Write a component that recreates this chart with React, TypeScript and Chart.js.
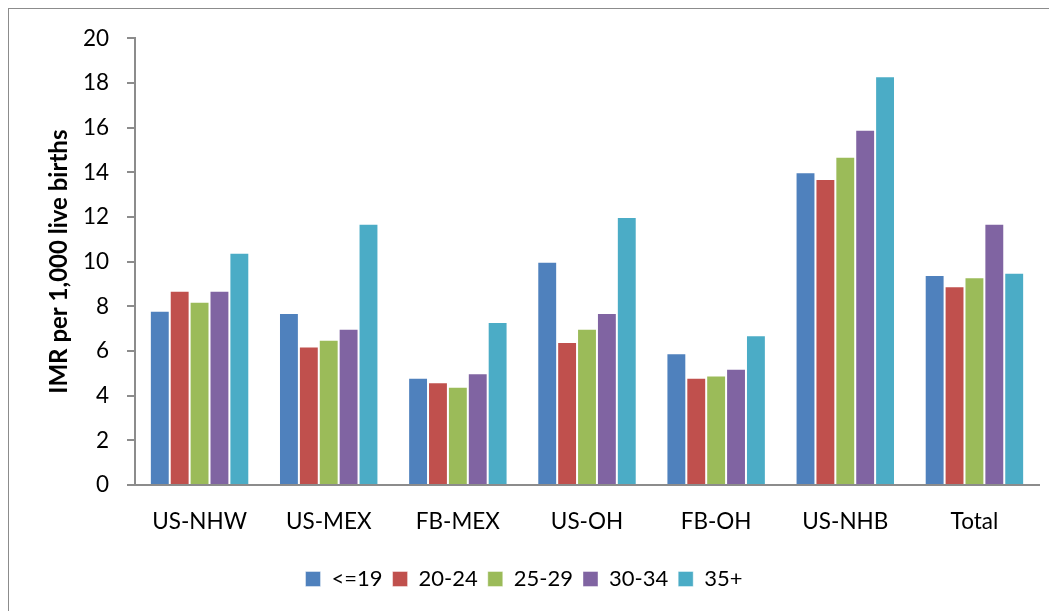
import React, { useEffect, useRef } from "react";
import { Chart, registerables } from "chart.js";

Chart.register(...registerables);

const categories = ["US-NHW", "US-MEX", "FB-MEX", "US-OH", "FB-OH", "US-NHB", "Total"];
const seriesLabels = ["<=19", "20-24", "25-29", "30-34", "35+"];
const ageUnder19 = [7.8, 7.7, 4.8, 10.0, 5.9, 14.0, 9.4];
const age20to24 = [8.7, 6.2, 4.6, 6.4, 4.8, 13.7, 8.9];
const age25to29 = [8.2, 6.5, 4.4, 7.0, 4.9, 14.7, 9.3];
const age30to34 = [8.7, 7.0, 5.0, 7.7, 5.2, 15.9, 11.7];
const age35plus = [10.4, 11.7, 7.3, 12.0, 6.7, 18.3, 9.5];
const seriesColors = ["#4F81BD", "#C0504D", "#9BBB59", "#8064A2", "#4BACC6"];
const yMin = 0;
const yMax = 20;
const yStep = 2;
const yTitle = "IMR per 1,000 live births";

const FONT = "Lato, 'Open Sans', 'Liberation Sans', sans-serif";

export default function App() {
  const ref = useRef<HTMLCanvasElement | null>(null);
  useEffect(() => {
    if (!ref.current) return;
    const values = [ageUnder19, age20to24, age25to29, age30to34, age35plus];
    const chart = new Chart(ref.current, {
      type: "bar",
      data: {
        labels: categories,
        datasets: values.map((v, i) => ({
          label: seriesLabels[i],
          data: v,
          backgroundColor: seriesColors[i],
          borderColor: "rgba(255,255,255,0.55)",
          borderWidth: { top: 1, left: 1, right: 1, bottom: 0 },
          borderSkipped: "bottom",
          categoryPercentage: 0.77,
          barPercentage: 1.0,
        })),
      },
      options: {
        animation: false,
        responsive: false,
        maintainAspectRatio: false,
        devicePixelRatio: 1,
        layout: { padding: { left: 0, right: 18, top: 28, bottom: 11 } },
        plugins: {
          tooltip: { enabled: false },
          title: { display: false },
          legend: {
            position: "bottom",
            labels: {
              boxWidth: 15,
              boxHeight: 15,
              padding: 10,
              color: "#000",
              font: { family: FONT, size: 22 },
            },
          },
        },
        scales: {
          x: {
            grid: { display: false, drawTicks: false },
            border: { display: true, color: "#8c8c8c", width: 2 },
            ticks: { color: "#000", padding: 23, font: { family: FONT, size: 22.5 }, maxRotation: 0 },
            afterFit: (s: any) => {
              s.height = 73;
            },
          },
          y: {
            min: yMin,
            max: yMax,
            grid: { display: true, drawOnChartArea: false, drawTicks: true, tickLength: 8, color: "#8c8c8c", lineWidth: 2 },
            border: { display: true, color: "#8c8c8c", width: 2 },
            ticks: { stepSize: yStep, color: "#000", padding: 18, font: { family: FONT, size: 22.5, lineHeight: 1 } },
            title: {
              display: true,
              text: yTitle,
              color: "#000",
              padding: { top: 36, bottom: 0 },
              font: { family: FONT, size: 24, weight: "bold" },
            },
            afterFit: (s: any) => {
              s.width = 126;
            },
          },
        },
      },
    });
    return () => chart.destroy();
  }, []);
  return (
    <div
      style={{
        width: 1049,
        height: 603,
        boxSizing: "border-box",
        borderLeft: "1px solid #8c8c8c",
        borderTop: "1px solid #8c8c8c",
        overflow: "hidden",
        background: "#fff",
      }}
    >
      <canvas ref={ref} width={1048} height={602} style={{ display: "block" }} />
    </div>
  );
}
